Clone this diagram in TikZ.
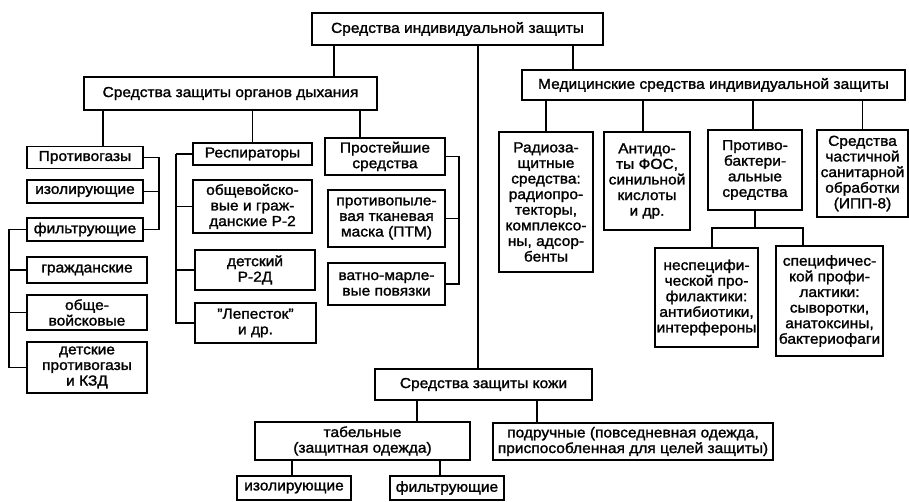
\documentclass[tikz,border=0pt]{standalone}
\usepackage{fontspec}
\setmainfont{Liberation Sans}[FakeBold=1.5,FakeStretch=1.07]
\usetikzlibrary{calc}
\tikzset{
  box/.style={draw, line width=1.6pt, inner sep=0pt, align=center,
    font=\fontsize{14.5}{15.6}\selectfont},
  wire/.style={line width=1.5pt}
}
\begin{document}
\begin{tikzpicture}[x=1pt,y=-1pt]
  \useasboundingbox (0,0) rectangle (909,502);
  \node[box, minimum width=291pt, minimum height=32pt] (top) at (457.5,29) {Средства индивидуальной защиты};
  \node[box, minimum width=293pt, minimum height=33pt] (resp) at (230.5,93.5) {Средства защиты органов дыхания};
  \node[box, minimum width=383pt, minimum height=30pt] (med) at (713.5,85) {Медицинские средства индивидуальной защиты};
  \node[box, minimum width=217pt, minimum height=31pt] (skin) at (483.5,384.5) {Средства защиты кожи};

  \node[box, minimum width=116pt, minimum height=22pt] (gasmask) at (85,157.5) {Противогазы};
  \node[box, minimum width=116pt, minimum height=23pt] (isol) at (85,191.5) {изолирующие};
  \node[box, minimum width=116pt, minimum height=23pt] (filt) at (85,229.5) {фильтрующие};
  \node[box, minimum width=120pt, minimum height=26pt] (civil) at (87,270) {гражданские};
  \node[box, minimum width=120pt, minimum height=35pt] (army) at (87,312.5) {обще-\\войсковые};
  \node[box, minimum width=120pt, minimum height=51pt] (kids) at (87,367.5) {детские\\противогазы\\и КЗД};

  \node[box, minimum width=119pt, minimum height=22pt] (resptr) at (252.5,154) {Респираторы};
  \node[box, minimum width=119pt, minimum height=53pt] (rtwo) at (252.5,206.5) {общевойско-\\вые и граж-\\данские Р-2};
  \node[box, minimum width=120pt, minimum height=40pt] (rtwod) at (255,270) {детский\\Р-2Д};
  \node[box, minimum width=121pt, minimum height=40pt] (petal) at (255.5,323) {"Лепесток"\\и др.};

  \node[box, minimum width=120pt, minimum height=37pt] (simple) at (385,156.5) {Простейшие\\средства};
  \node[box, minimum width=117pt, minimum height=57pt] (ptm) at (386.5,218.5) {противопыле-\\вая тканевая\\маска (ПТМ)};
  \node[box, minimum width=117pt, minimum height=42pt] (gauze) at (386.5,284) {ватно-марле-\\вые повязки};

  \node[box, minimum width=94pt, minimum height=140pt] (radio) at (546,202) {Радиоза-\\щитные\\средства:\\радиопро-\\текторы,\\комплексо-\\ны, адсор-\\бенты};
  \node[box, minimum width=86pt, minimum height=98pt] (antid) at (647,181) {Антидо-\\ты ФОС,\\синильной\\кислоты\\и др.};
  \node[box, minimum width=94pt, minimum height=80pt] (antibac) at (755,170) {Противо-\\бактери-\\альные\\средства};
  \node[box, minimum width=91pt, minimum height=87pt] (sanit) at (862.5,173.5) {Средства\\частичной\\санитарной\\обработки\\(ИПП-8)};
  \node[box, minimum width=103pt, minimum height=99pt] (nonspec) at (706.5,297.5) {неспецифи-\\ческой про-\\филактики:\\антибиотики,\\интерфероны};
  \node[box, minimum width=107pt, minimum height=110pt] (spec) at (829.5,301) {специфичес-\\кой профи-\\лактики:\\сыворотки,\\анатоксины,\\бактериофаги};

  \node[box, minimum width=215pt, minimum height=38pt] (tab) at (362.5,441) {табельные\\(защитная одежда)};
  \node[box, minimum width=280pt, minimum height=37pt] (hand) at (633,441.5) {подручные (повседневная одежда,\\приспособленная для целей защиты)};
  \node[box, minimum width=114pt, minimum height=24pt] (isoltwo) at (294,488) {изолирующие};
  \node[box, minimum width=114pt, minimum height=24pt] (filttwo) at (447,488) {фильтрующие};

  \begin{scope}[wire]
    \draw ($(resp.north)+(103.5,0)$) coordinate (c1) -- (c1 |- top.south);
    \draw ($(med.north)+(-140.5,0)$) coordinate (c2) -- (c2 |- top.south);
    \draw ($(skin.north)+(-5.5,0)$) coordinate (c3) -- (c3 |- top.south);

    \draw ($(gasmask.north)+(18,0)$) coordinate (c4) -- (c4 |- resp.south);
    \draw (resptr.north) -- (resptr.north |- resp.south);
    \draw ($(simple.north)+(-25,0)$) coordinate (c5) -- (c5 |- resp.south);

    \draw ($(gasmask.east)+(15,0)$) coordinate (b1) -- (gasmask.east);
    \draw (b1) |- (filt.east);
    \draw (isol.east) -- (isol.east -| b1);
    \draw ($(filt.west)+(-17,0)$) coordinate (b2) -- (filt.west);
    \draw (b2) |- (kids.west);
    \draw (civil.west) -- (civil.west -| b2);
    \draw (army.west) -- (army.west -| b2);

    \draw ($(resptr.west)+(-16,0)$) coordinate (b3) -- (resptr.west);
    \draw (b3) |- (petal.west);
    \draw (rtwo.west) -- (rtwo.west -| b3);
    \draw (rtwod.west) -- (rtwod.west -| b3);

    \draw ($(simple.east)+(13,0)$) coordinate (b4) -- (simple.east);
    \draw (b4) |- (gauze.east);
    \draw (ptm.east) -- (ptm.east -| b4);

    \draw (radio.north) -- (radio.north |- med.south);
    \draw ($(antid.north)+(-4,0)$) coordinate (c6) -- (c6 |- med.south);
    \draw ($(antibac.north)+(-2,0)$) coordinate (c7) -- (c7 |- med.south);
    \draw (sanit.north) -- (sanit.north |- med.south);
    \draw (antibac.south) -- ++(0,17) coordinate (j1);
    \draw ($(nonspec.north)+(5.5,0)$) |- (j1) -| ($(spec.north)+(-26.5,0)$);

    \draw ($(tab.north)+(54.5,0)$) coordinate (c8) -- (c8 |- skin.south);
    \draw ($(hand.north)+(-96,0)$) coordinate (c9) -- (c9 |- skin.south);
    \draw ($(isoltwo.north)+(-2,0)$) coordinate (c10) -- (c10 |- tab.south);
    \draw ($(filttwo.north)+(-7,0)$) coordinate (c11) -- (c11 |- tab.south);
  \end{scope}
\end{tikzpicture}
\end{document}
